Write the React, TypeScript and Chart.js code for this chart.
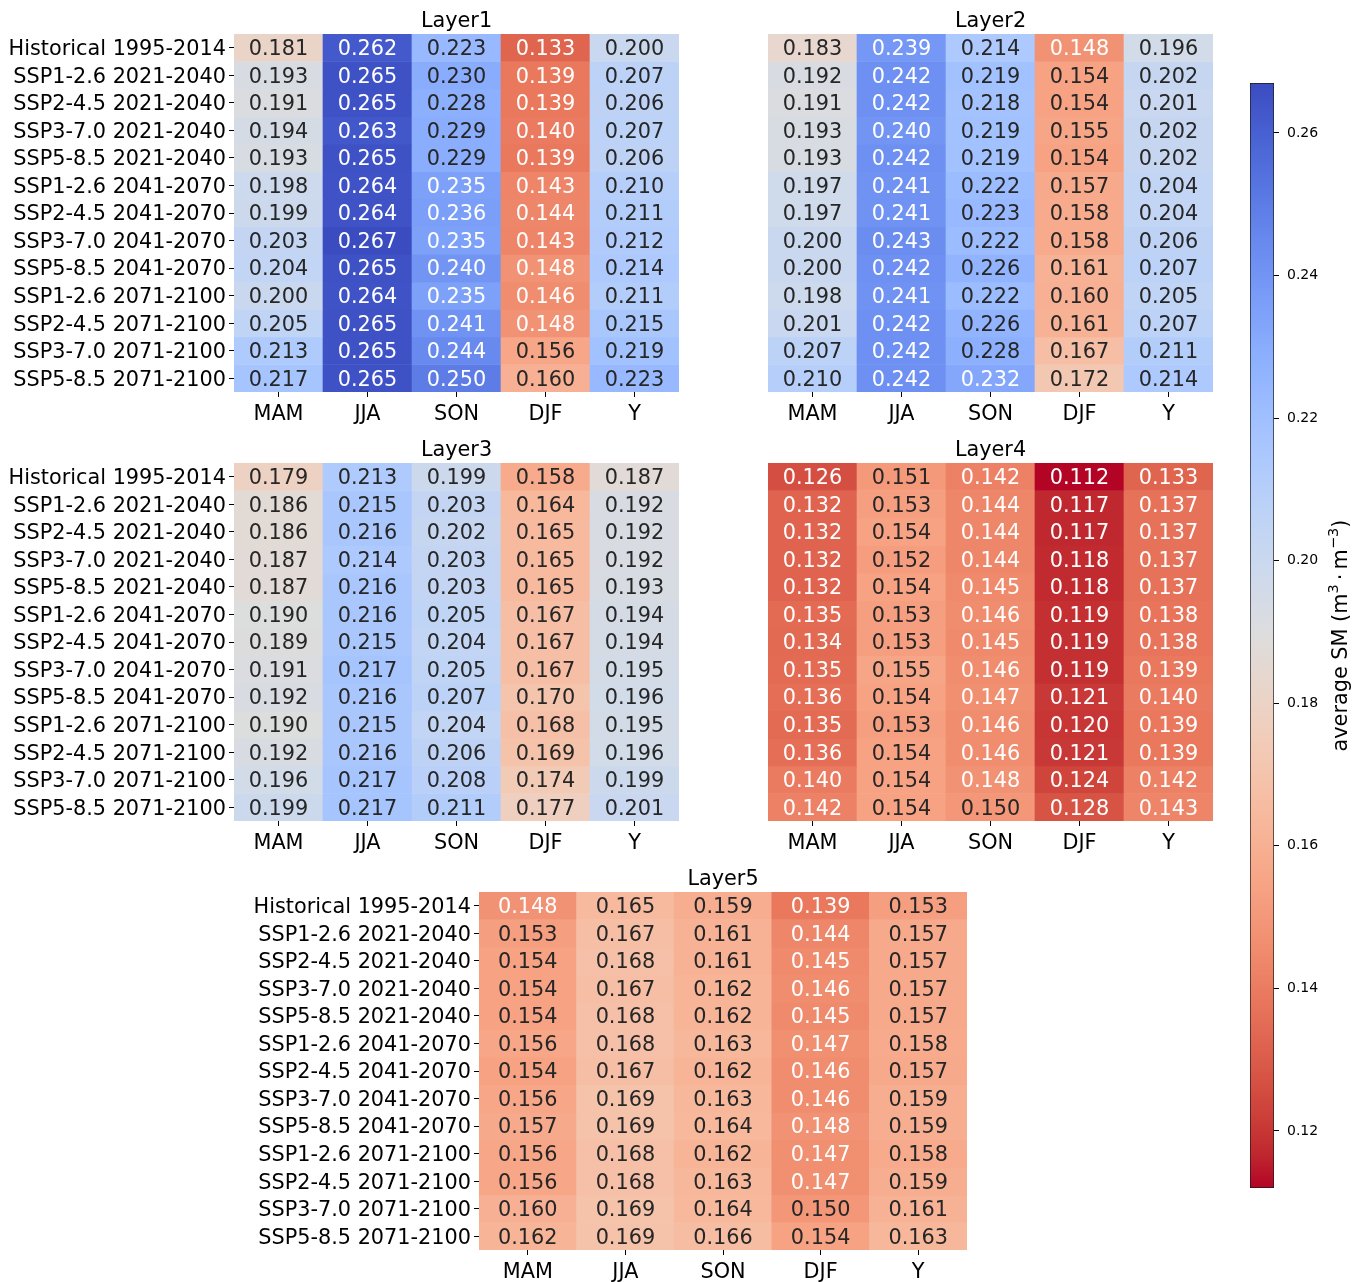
import React, { useEffect, useRef } from "react";
import { Chart, registerables } from "chart.js";

Chart.register(...registerables);

const FONT = "'DejaVu Sans', sans-serif";
const FS = 20.8;

// Row (scenario / period) and column (season) labels
const ROWS = [
  "Historical 1995-2014",
  "SSP1-2.6 2021-2040",
  "SSP2-4.5 2021-2040",
  "SSP3-7.0 2021-2040",
  "SSP5-8.5 2021-2040",
  "SSP1-2.6 2041-2070",
  "SSP2-4.5 2041-2070",
  "SSP3-7.0 2041-2070",
  "SSP5-8.5 2041-2070",
  "SSP1-2.6 2071-2100",
  "SSP2-4.5 2071-2100",
  "SSP3-7.0 2071-2100",
  "SSP5-8.5 2071-2100",
];
const SEASONS = ["MAM", "JJA", "SON", "DJF", "Y"];

// Average soil moisture per layer, rows x [MAM, JJA, SON, DJF, Y]
const LAYER1 = [
  [0.181, 0.262, 0.223, 0.133, 0.2],
  [0.193, 0.265, 0.23, 0.139, 0.207],
  [0.191, 0.265, 0.228, 0.139, 0.206],
  [0.194, 0.263, 0.229, 0.14, 0.207],
  [0.193, 0.265, 0.229, 0.139, 0.206],
  [0.198, 0.264, 0.235, 0.143, 0.21],
  [0.199, 0.264, 0.236, 0.144, 0.211],
  [0.203, 0.267, 0.235, 0.143, 0.212],
  [0.204, 0.265, 0.24, 0.148, 0.214],
  [0.2, 0.264, 0.235, 0.146, 0.211],
  [0.205, 0.265, 0.241, 0.148, 0.215],
  [0.213, 0.265, 0.244, 0.156, 0.219],
  [0.217, 0.265, 0.25, 0.16, 0.223],
];
const LAYER2 = [
  [0.183, 0.239, 0.214, 0.148, 0.196],
  [0.192, 0.242, 0.219, 0.154, 0.202],
  [0.191, 0.242, 0.218, 0.154, 0.201],
  [0.193, 0.24, 0.219, 0.155, 0.202],
  [0.193, 0.242, 0.219, 0.154, 0.202],
  [0.197, 0.241, 0.222, 0.157, 0.204],
  [0.197, 0.241, 0.223, 0.158, 0.204],
  [0.2, 0.243, 0.222, 0.158, 0.206],
  [0.2, 0.242, 0.226, 0.161, 0.207],
  [0.198, 0.241, 0.222, 0.16, 0.205],
  [0.201, 0.242, 0.226, 0.161, 0.207],
  [0.207, 0.242, 0.228, 0.167, 0.211],
  [0.21, 0.242, 0.232, 0.172, 0.214],
];
const LAYER3 = [
  [0.179, 0.213, 0.199, 0.158, 0.187],
  [0.186, 0.215, 0.203, 0.164, 0.192],
  [0.186, 0.216, 0.202, 0.165, 0.192],
  [0.187, 0.214, 0.203, 0.165, 0.192],
  [0.187, 0.216, 0.203, 0.165, 0.193],
  [0.19, 0.216, 0.205, 0.167, 0.194],
  [0.189, 0.215, 0.204, 0.167, 0.194],
  [0.191, 0.217, 0.205, 0.167, 0.195],
  [0.192, 0.216, 0.207, 0.17, 0.196],
  [0.19, 0.215, 0.204, 0.168, 0.195],
  [0.192, 0.216, 0.206, 0.169, 0.196],
  [0.196, 0.217, 0.208, 0.174, 0.199],
  [0.199, 0.217, 0.211, 0.177, 0.201],
];
const LAYER4 = [
  [0.126, 0.151, 0.142, 0.112, 0.133],
  [0.132, 0.153, 0.144, 0.117, 0.137],
  [0.132, 0.154, 0.144, 0.117, 0.137],
  [0.132, 0.152, 0.144, 0.118, 0.137],
  [0.132, 0.154, 0.145, 0.118, 0.137],
  [0.135, 0.153, 0.146, 0.119, 0.138],
  [0.134, 0.153, 0.145, 0.119, 0.138],
  [0.135, 0.155, 0.146, 0.119, 0.139],
  [0.136, 0.154, 0.147, 0.121, 0.14],
  [0.135, 0.153, 0.146, 0.12, 0.139],
  [0.136, 0.154, 0.146, 0.121, 0.139],
  [0.14, 0.154, 0.148, 0.124, 0.142],
  [0.142, 0.154, 0.15, 0.128, 0.143],
];
const LAYER5 = [
  [0.148, 0.165, 0.159, 0.139, 0.153],
  [0.153, 0.167, 0.161, 0.144, 0.157],
  [0.154, 0.168, 0.161, 0.145, 0.157],
  [0.154, 0.167, 0.162, 0.146, 0.157],
  [0.154, 0.168, 0.162, 0.145, 0.157],
  [0.156, 0.168, 0.163, 0.147, 0.158],
  [0.154, 0.167, 0.162, 0.146, 0.157],
  [0.156, 0.169, 0.163, 0.146, 0.159],
  [0.157, 0.169, 0.164, 0.148, 0.159],
  [0.156, 0.168, 0.162, 0.147, 0.158],
  [0.156, 0.168, 0.163, 0.147, 0.159],
  [0.16, 0.169, 0.164, 0.15, 0.161],
  [0.162, 0.169, 0.166, 0.154, 0.163],
];

// Shared colour scale
const VMIN = 0.112;
const VMAX = 0.267;
const CBAR_TICKS = [0.12, 0.14, 0.16, 0.18, 0.2, 0.22, 0.24, 0.26];
// Colour-bar title "average SM (m^3 · m^-3)" as runs of normal / superscript text
const CBAR_LABEL_PARTS = [
  { text: "average SM (m", sup: false, pad: 0 },
  { text: "3", sup: true, pad: 0 },
  { text: "·", sup: false, pad: 0.2 },
  { text: "m", sup: false, pad: 0 },
  { text: "−3", sup: true, pad: 0 },
  { text: ")", sup: false, pad: 0 },
];

// Cool-warm diverging colour map nodes (blue -> grey -> red)
const COOLWARM: number[][] = [
  [0.2298057, 0.298717966, 0.753683153],
  [0.26623388, 0.353094838, 0.801466763],
  [0.30386891, 0.406535296, 0.84495867],
  [0.342804478, 0.458757618, 0.883725899],
  [0.38301334, 0.50941904, 0.917387822],
  [0.424369608, 0.558148092, 0.945619588],
  [0.46666708, 0.604562568, 0.968154911],
  [0.509635204, 0.648280772, 0.98478814],
  [0.552953156, 0.688929332, 0.995375608],
  [0.596262162, 0.726149107, 0.999836203],
  [0.639176211, 0.759599947, 0.998151185],
  [0.681291281, 0.788964712, 0.990363227],
  [0.722193294, 0.813952739, 0.976574709],
  [0.761464949, 0.834302879, 0.956945269],
  [0.798691636, 0.849786142, 0.931688648],
  [0.833466556, 0.860207984, 0.901068838],
  [0.865395197, 0.86541021, 0.865395561],
  [0.897787179, 0.848937047, 0.820880546],
  [0.924127593, 0.827384882, 0.774508472],
  [0.944468518, 0.800927443, 0.726736146],
  [0.958852946, 0.769767752, 0.678007945],
  [0.96732803, 0.734132809, 0.628751763],
  [0.969954137, 0.694266682, 0.579375448],
  [0.966811177, 0.650421156, 0.530263762],
  [0.958003065, 0.602842431, 0.481775914],
  [0.943660866, 0.551750968, 0.434243684],
  [0.923944917, 0.49730856, 0.387970225],
  [0.89904617, 0.439559467, 0.343229596],
  [0.869186849, 0.378313092, 0.300267182],
  [0.834620542, 0.312874446, 0.259301199],
  [0.795631745, 0.24128379, 0.220525627],
  [0.752534934, 0.157246067, 0.184115123],
  [0.705673158, 0.01555616, 0.150232812],
];

function coolwarm(t: number): number[] {
  const n = COOLWARM.length - 1;
  const p = Math.min(Math.max(t, 0), 1) * n;
  const i = Math.min(Math.floor(p), n - 1);
  const f = p - i;
  const a = COOLWARM[i];
  const b = COOLWARM[i + 1];
  return [0, 1, 2].map((k) => a[k] + (b[k] - a[k]) * f);
}

// Reversed map (low = red, high = blue), quantised to 256 levels
function smColor(v: number): number[] {
  const t = (v - VMIN) / (VMAX - VMIN);
  const idx = Math.min(255, Math.max(0, Math.floor(t * 256)));
  return coolwarm(1 - idx / 255);
}

function toCss(rgb: number[]): string {
  const [r, g, b] = rgb.map((c) => Math.round(c * 255));
  return `rgb(${r},${g},${b})`;
}

function textColor(rgb: number[]): string {
  const lin = rgb.map((c) => (c <= 0.03928 ? c / 12.92 : Math.pow((c + 0.055) / 1.055, 2.4)));
  const lum = 0.2126 * lin[0] + 0.7152 * lin[1] + 0.0722 * lin[2];
  return lum > 0.408 ? "#262626" : "#ffffff";
}

// Panel placement of the cell grid on the page
const LABEL_W = 234;
const TITLE_H = 34;
const GRID_H = 358;
const XAXIS_H = 40;
const PANELS = [
  { title: "Layer1", values: LAYER1, left: 234, top: 34, width: 445, showRows: true },
  { title: "Layer2", values: LAYER2, left: 768, top: 34, width: 445, showRows: false },
  { title: "Layer3", values: LAYER3, left: 234, top: 463, width: 445, showRows: true },
  { title: "Layer4", values: LAYER4, left: 768, top: 463, width: 445, showRows: false },
  { title: "Layer5", values: LAYER5, left: 479, top: 892, width: 488, showRows: true },
];

type PanelProps = {
  title: string;
  values: number[][];
  left: number;
  top: number;
  width: number;
  showRows: boolean;
};

function Heatmap({ title, values, left, top, width, showRows }: PanelProps) {
  const ref = useRef<HTMLCanvasElement>(null);
  const cw = LABEL_W + width + 8;
  const ch = TITLE_H + GRID_H + XAXIS_H;

  useEffect(() => {
    if (!ref.current) return;
    const annotate = {
      id: "annotate",
      afterDatasetsDraw(chart: any) {
        const ctx = chart.ctx as CanvasRenderingContext2D;
        ctx.save();
        ctx.font = `${FS}px ${FONT}`;
        ctx.textAlign = "center";
        ctx.textBaseline = "middle";
        values.forEach((row, r) => {
          const meta = chart.getDatasetMeta(r);
          row.forEach((v, c) => {
            const bar = meta.data[c];
            const { x, y, base } = bar.getProps(["x", "y", "base"], true);
            ctx.fillStyle = textColor(smColor(v));
            ctx.fillText(v.toFixed(3), x, (y + base) / 2 + 2);
          });
        });
        const area = chart.chartArea;
        ctx.fillStyle = "#000";
        ctx.textBaseline = "alphabetic";
        ctx.fillText(title, (area.left + area.right) / 2, area.top - 7);
        ctx.restore();
      },
    };

    const chart = new Chart(ref.current, {
      type: "bar",
      data: {
        labels: SEASONS,
        datasets: values.map((row, r) => ({
          label: ROWS[r],
          data: row.map(() => 1),
          backgroundColor: row.map((v) => toCss(smColor(v))),
          borderWidth: 0,
          barPercentage: 1,
          categoryPercentage: 1,
        })),
      },
      options: {
        responsive: false,
        animation: false,
        layout: { padding: { top: TITLE_H, left: 0, right: 8, bottom: 0 } },
        plugins: { legend: { display: false }, tooltip: { enabled: false } },
        scales: {
          x: {
            type: "category",
            stacked: true,
            offset: true,
            border: { display: false },
            grid: { offset: false, drawOnChartArea: false, tickLength: 5, tickColor: "#000", tickWidth: 1 },
            ticks: { color: "#000", font: { family: FONT, size: FS }, padding: 5.5, maxRotation: 0 },
            afterFit: (s: any) => {
              s.height = XAXIS_H;
            },
          },
          y: {
            type: "linear",
            stacked: true,
            min: 0,
            max: ROWS.length,
            reverse: true,
            border: { display: false },
            grid: {
              drawOnChartArea: false,
              drawTicks: showRows,
              tickLength: 5,
              tickColor: "#000",
              tickWidth: 1,
            },
            ticks: {
              display: showRows,
              autoSkip: false,
              color: "#000",
              font: { family: FONT, size: FS },
              padding: 3,
              labelOffset: 2,
              callback: (_v: any, i: number) => ROWS[i],
            },
            afterBuildTicks: (s: any) => {
              s.ticks = ROWS.map((_, i) => ({ value: i + 0.5 }));
            },
            afterFit: (s: any) => {
              s.width = LABEL_W;
            },
          },
        },
      },
      plugins: [annotate],
    } as any);
    return () => chart.destroy();
  }, [title, values, showRows]);

  return (
    <canvas
      ref={ref}
      width={cw}
      height={ch}
      style={{ position: "absolute", left: left - LABEL_W, top: top - TITLE_H, width: cw, height: ch }}
    />
  );
}

function Colorbar() {
  const ref = useRef<HTMLCanvasElement>(null);
  const cw = 120;
  const ch = 1200;

  useEffect(() => {
    if (!ref.current) return;
    const label = {
      id: "cbarLabel",
      afterDraw(chart: any) {
        const ctx = chart.ctx as CanvasRenderingContext2D;
        const area = chart.chartArea;
        const fontFor = (sup: boolean) => `${sup ? FS * 0.7 : FS}px ${FONT}`;
        ctx.save();
        ctx.translate(area.right + 73, (area.top + area.bottom) / 2);
        ctx.rotate(-Math.PI / 2);
        ctx.fillStyle = "#000";
        ctx.textAlign = "left";
        ctx.textBaseline = "alphabetic";
        const widths = CBAR_LABEL_PARTS.map((p) => {
          ctx.font = fontFor(p.sup);
          return ctx.measureText(p.text).width + 2 * p.pad * FS;
        });
        let x = -widths.reduce((a, b) => a + b, 0) / 2;
        CBAR_LABEL_PARTS.forEach((p, i) => {
          ctx.font = fontFor(p.sup);
          ctx.fillText(p.text, x + p.pad * FS, p.sup ? -0.42 * FS : 0);
          x += widths[i];
        });
        ctx.restore();
      },
    };

    const chart = new Chart(ref.current, {
      type: "bar",
      data: {
        labels: [""],
        datasets: [
          {
            data: [[VMIN, VMAX]],
            backgroundColor: (c: any) => {
              const ch2 = c.chart;
              if (!ch2.chartArea) return "#ccc";
              const ys = ch2.scales.y;
              const y0 = ys.getPixelForValue(VMIN);
              const y1 = ys.getPixelForValue(VMAX);
              const g = ch2.ctx.createLinearGradient(0, y0, 0, y1);
              const n = COOLWARM.length - 1;
              for (let k = 0; k <= n; k++) g.addColorStop(k / n, toCss(coolwarm(1 - k / n)));
              return g;
            },
            borderColor: "#1a1a1a",
            borderWidth: 1,
            borderSkipped: false,
            barPercentage: 1,
            categoryPercentage: 1,
          },
        ],
      },
      options: {
        responsive: false,
        animation: false,
        layout: { padding: { top: 23, left: 10, right: 0, bottom: ch - (1188 - 60) } },
        plugins: { legend: { display: false }, tooltip: { enabled: false } },
        scales: {
          x: { type: "category", display: false, offset: true },
          y: {
            type: "linear",
            position: "right",
            min: VMIN,
            max: VMAX,
            border: { display: false },
            grid: { drawOnChartArea: false, tickLength: 5, tickColor: "#000", tickWidth: 1 },
            ticks: {
              autoSkip: false,
              color: "#000",
              font: { family: FONT, size: 14 },
              padding: 8,
              callback: (v: any) => Number(v).toFixed(2),
            },
            afterBuildTicks: (s: any) => {
              s.ticks = CBAR_TICKS.map((value) => ({ value }));
            },
            afterFit: (s: any) => {
              s.width = cw - 10 - 24;
            },
          },
        },
      },
      plugins: [label],
    } as any);
    return () => chart.destroy();
  }, []);

  return (
    <canvas
      ref={ref}
      width={cw}
      height={ch}
      style={{ position: "absolute", left: 1240, top: 60, width: cw, height: ch }}
    />
  );
}

export default function App() {
  return (
    <div
      style={{
        position: "absolute",
        left: 0,
        top: 0,
        width: 1360,
        height: 1282,
        background: "#fff",
        overflow: "hidden",
      }}
    >
      {PANELS.map((p) => (
        <Heatmap key={p.title} {...p} />
      ))}
      <Colorbar />
    </div>
  );
}
